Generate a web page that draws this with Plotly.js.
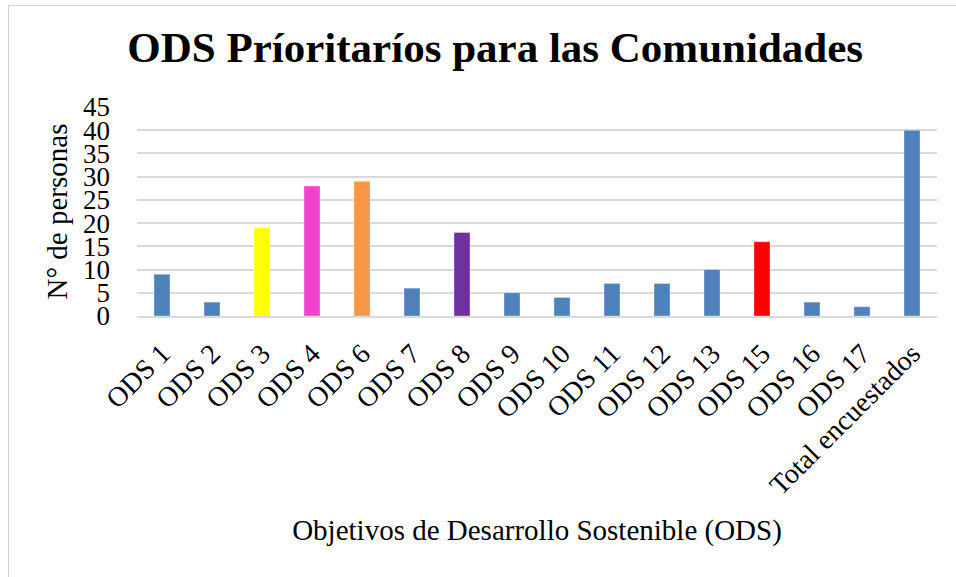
<!DOCTYPE html>
<html>
<head>
<meta charset="utf-8">
<script src="https://cdn.plot.ly/plotly-3.0.1.min.js"></script>
<style>
html,body{margin:0;padding:0;background:#fff;}
#wrap{position:relative;width:956px;height:577px;overflow:hidden;}
#chart{position:absolute;left:0;top:0;width:956px;height:577px;}
#frame{position:absolute;left:8px;top:5px;width:1000px;height:700px;border-left:1.5px solid #D0D0D0;border-top:1.5px solid #D0D0D0;pointer-events:none;}
</style>
</head>
<body>
<div id="wrap"><div id="chart"></div><div id="frame"></div></div>
<script>
const categories = ["ODS 1","ODS 2","ODS 3","ODS 4","ODS 6","ODS 7","ODS 8","ODS 9","ODS 10","ODS 11","ODS 12","ODS 13","ODS 15","ODS 16","ODS 17","Total encuestados"];
const values = [9,3,19,28,29,6,18,5,4,7,7,10,16,3,2,40];
const barColors = ["#4F81BD","#4F81BD","#FFFF00","#EF42CF","#F79646","#4F81BD","#7030A0","#4F81BD","#4F81BD","#4F81BD","#4F81BD","#4F81BD","#FF0000","#4F81BD","#4F81BD","#4F81BD"];
const yTicks = [0,5,10,15,20,25,30,35,40,45];

const serif = "'Liberation Serif', 'Times New Roman', serif";

Plotly.newPlot('chart', [{
  type: 'bar',
  x: categories,
  y: values,
  marker: {color: barColors, line: {color: 'rgba(255,255,255,0.35)', width: 1}},
  hoverinfo: 'x+y'
}], {
  width: 956, height: 577,
  margin: {l: 137, r: 19, t: 107, b: 261},
  paper_bgcolor: '#fff', plot_bgcolor: '#fff',
  bargap: 0.68,
  showlegend: false,
  title: {text: '<b>ODS Príoritaríos para las Comunidades</b>', font: {family: serif, size: 43, color: '#000'}, x: 0.518, xanchor: 'center', y: 0.918, yanchor: 'middle', yref: 'container'},
  xaxis: {
    type: 'category', tickangle: -45, tickfont: {family: serif, size: 28, color: '#000'},
    showline: true, linecolor: '#D9D9D9', linewidth: 2, showgrid: false, ticks: '', ticklabelstandoff: 8,
    title: {text: 'Objetivos de Desarrollo Sostenible (ODS)', font: {family: serif, size: 29, color: '#000'}, standoff: 20}
  },
  yaxis: {
    range: [0, 45], tickvals: yTicks, tickfont: {family: serif, size: 27, color: '#000'},
    gridcolor: '#D9D9D9', gridwidth: 2, zeroline: false, ticks: '', ticklabelstandoff: 26,
    title: {text: 'N° de personas', font: {family: serif, size: 29, color: '#000'}, standoff: 6}
  }
}, {displayModeBar: false, staticPlot: true});
</script>
</body>
</html>
